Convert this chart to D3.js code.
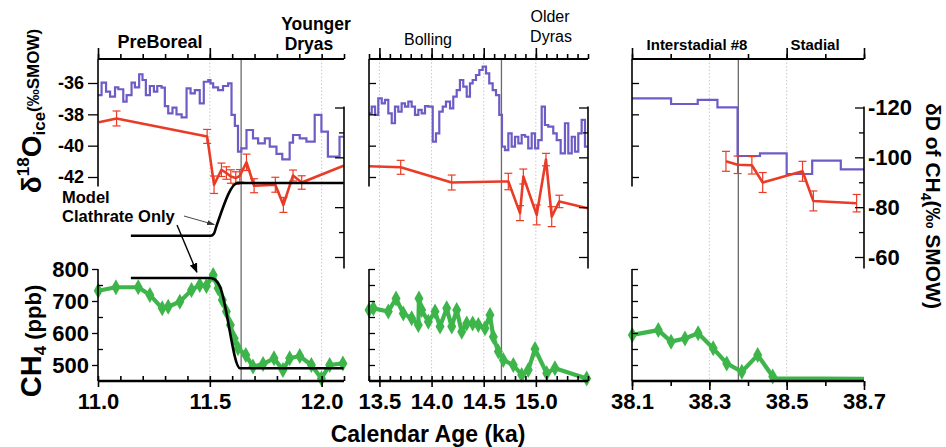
<!DOCTYPE html>
<html><head><meta charset="utf-8">
<script src="https://cdn.jsdelivr.net/npm/d3@7"></script>
<style>body{margin:0;background:#fff}svg{display:block}text{font-family:"Liberation Sans",Arial,Helvetica,sans-serif}</style>
</head><body><svg id="c" width="946" height="447"></svg>
<script>
// ---------------- DATA ----------------
// δ18O of ice (step series, [age ka, permil])
const isoA = [[11.000,-36.77],[11.016,-35.98],[11.036,-36.55],[11.054,-36.87],[11.076,-36.28],[11.091,-36.40],[11.113,-37.19],[11.128,-36.77],[11.150,-35.98],[11.165,-36.28],[11.184,-35.44],[11.199,-35.81],[11.214,-36.77],[11.232,-36.19],[11.250,-36.55],[11.265,-36.19],[11.284,-36.30],[11.299,-37.47],[11.314,-37.94],[11.333,-37.57],[11.351,-38.00],[11.374,-38.19],[11.396,-36.34],[11.414,-36.66],[11.433,-36.45],[11.455,-37.30],[11.473,-35.92],[11.493,-35.81],[11.503,-36.02],[11.515,-36.28],[11.537,-36.45],[11.559,-36.19],[11.582,-36.02],[11.597,-38.04],[11.612,-38.74],[11.626,-40.38],[11.641,-40.17],[11.664,-39.00],[11.693,-39.53],[11.716,-39.85],[11.746,-39.53],[11.768,-40.06],[11.798,-40.53],[11.824,-40.87],[11.857,-39.81],[11.872,-39.32],[11.902,-39.53],[11.932,-39.74],[11.969,-38.04],[11.999,-39.11],[12.028,-40.70],[12.080,-39.43],[12.098,-39.43]];
const isoB = [[13.400,-37.94],[13.426,-37.51],[13.458,-38.04],[13.489,-36.98],[13.522,-37.30],[13.553,-37.08],[13.585,-37.94],[13.618,-38.57],[13.649,-37.51],[13.681,-37.83],[13.713,-37.30],[13.745,-37.51],[13.777,-37.19],[13.809,-37.51],[13.841,-38.04],[13.873,-37.72],[13.905,-37.94],[13.937,-37.47],[13.969,-37.51],[14.011,-39.74],[14.042,-39.21],[14.074,-37.83],[14.107,-37.51],[14.138,-37.19],[14.177,-37.62],[14.208,-36.87],[14.241,-36.45],[14.272,-35.81],[14.304,-36.23],[14.337,-36.87],[14.368,-36.02],[14.394,-35.81],[14.426,-35.49],[14.458,-35.17],[14.490,-34.96],[14.522,-35.38],[14.553,-36.02],[14.586,-36.45],[14.618,-36.77],[14.649,-38.04],[14.675,-40.06],[14.704,-40.28],[14.736,-39.21],[14.768,-40.06],[14.800,-39.43],[14.832,-39.85],[14.864,-39.32],[14.896,-39.43],[14.927,-40.17],[14.960,-39.21],[14.992,-40.17],[15.023,-39.64],[15.056,-37.51],[15.087,-38.68],[15.119,-38.79],[15.167,-39.21],[15.200,-39.64],[15.238,-40.49],[15.279,-38.57],[15.311,-40.49],[15.344,-39.43],[15.375,-40.38],[15.407,-39.21],[15.439,-38.36],[15.471,-40.06],[15.497,-40.06]];
const isoC = [[38.100,-36.98],[38.201,-37.34],[38.270,-37.08],[38.321,-37.55],[38.373,-40.66],[38.431,-40.49],[38.500,-41.81],[38.566,-40.96],[38.640,-41.51],[38.700,-41.51]];

// δD of CH4 ([age, permil, error])
const ddA = [[11.004,-114.1,0],[11.083,-115.6,3],[11.488,-108.4,2.8],[11.519,-89.0,3.5],[11.552,-95.0,2.7],[11.574,-93.7,2.5],[11.594,-92.3,2.7],[11.616,-91.7,2.5],[11.634,-92.6,2.5],[11.664,-98.0,3.3],[11.698,-88.6,2.8],[11.793,-89.0,3],[11.829,-80.9,3],[11.872,-92.7,2.2],[11.911,-89.9,2.7],[12.098,-96.6,0]];
const ddB = [[13.400,-96.4,0],[13.704,-96.0,2.8],[14.193,-89.9,3],[14.672,-90.3,0],[14.736,-90.3,3.3],[14.848,-77.6,3],[14.880,-92.3,3],[15.008,-76.9,4],[15.097,-99.1,2.5],[15.152,-76.2,4],[15.225,-82.3,2.5],[15.497,-79.6,0]];
const ddC = [[38.343,-98.4,4],[38.373,-97.0,3.5],[38.410,-96.8,3.5],[38.438,-89.9,4],[38.541,-94.4,4],[38.569,-82.5,4],[38.681,-81.6,3.5]];

// CH4 (ppb)
const ch4A = [[11.001,732],[11.080,743],[11.180,743],[11.232,719],[11.287,677],[11.314,682],[11.366,698],[11.418,734],[11.455,750],[11.485,747],[11.515,781],[11.537,740],[11.556,703],[11.574,667],[11.592,625],[11.609,583],[11.626,552],[11.661,531],[11.693,495],[11.738,503],[11.787,521],[11.827,484],[11.857,521],[11.902,528],[11.954,500],[11.999,458],[12.036,500],[12.095,505]];
const ch4B = [[13.400,672],[13.442,677],[13.585,667],[13.659,708],[13.729,661],[13.809,646],[13.873,625],[13.879,708],[13.905,672],[13.969,635],[14.033,667],[14.081,620],[14.145,677],[14.193,620],[14.241,672],[14.289,604],[14.337,630],[14.394,630],[14.448,625],[14.512,615],[14.560,656],[14.592,588],[14.640,542],[14.688,516],[14.784,500],[14.864,469],[14.927,484],[14.992,550],[15.104,474],[15.183,490],[15.487,458]];
const ch4C = [[38.101,594],[38.168,609],[38.201,573],[38.237,583],[38.271,599],[38.310,552],[38.345,505],[38.384,479],[38.425,531],[38.464,464],[38.474,458],[38.700,457]];

// Clathrate-only model curves
const modelDD = [[11.147,-68.5],[11.505,-68.5],[11.518,-69.3],[11.530,-72.5],[11.625,-89.7],[12.098,-89.7]];
const modelCH4 = [[11.147,772],[11.500,772],[11.520,768],[11.545,745],[11.635,490],[12.098,490]];

// tick labels / reference lines
const xTicksA = [11.0, 11.5, 12.0];
const xTicksB = [13.5, 14.0, 14.5, 15.0];
const xTicksC = [38.1, 38.3, 38.5, 38.7];
const isoTicks = [-36, -38, -40, -42];
const ddTicks = [-120, -100, -80, -60];
const ddMinor = [-110, -90, -70];
const ch4Ticks = [500, 600, 700, 800];
const ch4Minor = [550, 650, 750];
const transitions = [11.64, 14.67, 38.375];

// ---------------- LAYOUT ----------------
const TOP = 59, BOT = 381;
const svg = d3.select('#c');
const xA = d3.scaleLinear().domain([11.0, 12.1]).range([98, 344]);
const xB = d3.scaleLinear().domain([13.4, 15.5]).range([369, 588]);
const xC = d3.scaleLinear().domain([38.1, 38.7]).range([632, 864]);
const yIso = d3.scaleLinear().domain([-36, -42]).range([83, 177]);
const yDD = d3.scaleLinear().domain([-120, -60]).range([107.5, 257]);
const yCH4 = d3.scaleLinear().domain([800, 500]).range([269, 365]);

const C_PUR = '#6e5cc6', C_RED = '#ea3b26', C_GRN = '#3db54a';

const panels = [
  {x: xA, iso: isoA, dd: ddA, ch4: ch4A, ticks: xTicksA, minorStep: [11.0, 12.1], topMajor: [11.0, 11.5], dotted: [11.5, 12.0], trans: transitions[0], diamondsSkip: 0},
  {x: xB, iso: isoB, dd: ddB, ch4: ch4B, ticks: xTicksB, minorStep: [13.4, 15.5], topMajor: [13.5, 14.0, 14.5, 15.0], dotted: [13.5, 14.0, 14.5, 15.0], trans: transitions[1], diamondsSkip: 0},
  {x: xC, iso: isoC, dd: ddC, ch4: ch4C, ticks: xTicksC, minorStep: [38.1, 38.7], topMajor: [38.1, 38.5, 38.7], dotted: [38.3, 38.5], trans: transitions[2], diamondsSkip: 2}
];

panels.forEach((p, i) => {
  const g = svg.append('g');
  const [x0, x1] = p.x.range();
  // reference lines
  g.selectAll('line.dot').data(p.dotted).join('line')
    .attr('x1', d => p.x(d)).attr('x2', d => p.x(d)).attr('y1', TOP).attr('y2', BOT)
    .attr('stroke', '#c8c8c8').attr('stroke-width', 1).attr('stroke-dasharray', '1.5,2');
  g.append('line').attr('x1', p.x(p.trans)).attr('x2', p.x(p.trans)).attr('y1', TOP).attr('y2', BOT)
    .attr('stroke', '#6a6a6a').attr('stroke-width', 1.3);

  // δ18O step line
  g.append('path').datum(p.iso)
    .attr('d', d3.line().x(d => p.x(d[0])).y(d => yIso(d[1])).curve(d3.curveStepAfter))
    .attr('fill', 'none').attr('stroke', C_PUR).attr('stroke-width', 2.2);

  // δD line + error bars
  g.append('path').datum(p.dd)
    .attr('d', d3.line().x(d => p.x(d[0])).y(d => yDD(d[1])))
    .attr('fill', 'none').attr('stroke', C_RED).attr('stroke-width', 2.6).attr('stroke-linejoin', 'round');
  const eb = g.selectAll('g.eb').data(p.dd.filter(d => d[2] > 0)).join('g')
    .attr('stroke', C_RED).attr('stroke-width', 1.2);
  eb.append('line').attr('x1', d => p.x(d[0])).attr('x2', d => p.x(d[0]))
    .attr('y1', d => yDD(d[1] - d[2])).attr('y2', d => yDD(d[1] + d[2]));
  eb.append('line').attr('x1', d => p.x(d[0]) - 4).attr('x2', d => p.x(d[0]) + 4)
    .attr('y1', d => yDD(d[1] - d[2])).attr('y2', d => yDD(d[1] - d[2]));
  eb.append('line').attr('x1', d => p.x(d[0]) - 4).attr('x2', d => p.x(d[0]) + 4)
    .attr('y1', d => yDD(d[1] + d[2])).attr('y2', d => yDD(d[1] + d[2]));

  // CH4 line + diamonds
  g.append('path').datum(p.ch4)
    .attr('d', d3.line().x(d => p.x(d[0])).y(d => yCH4(d[1])))
    .attr('fill', 'none').attr('stroke', C_GRN).attr('stroke-width', 4.2).attr('stroke-linejoin', 'round');
  g.selectAll('path.dm').data(p.ch4.slice(0, p.ch4.length - p.diamondsSkip)).join('path')
    .attr('d', d => { const cx = p.x(d[0]), cy = yCH4(d[1]); return `M${cx},${cy-8}L${cx+4.5},${cy}L${cx},${cy+8}L${cx-4.5},${cy}Z`; })
    .attr('fill', C_GRN);

  // ----- axes -----
  const ax = svg.append('g').attr('stroke', '#000');
  const minor = d3.range(Math.round(p.minorStep[0]*10), Math.round(p.minorStep[1]*10) + 1).map(v => v / 10);
  const top = svg.append('g').attr('transform', `translate(0,${TOP})`);
  top.call(d3.axisTop(p.x).tickValues(minor).tickSize(5).tickFormat(''));
  const topMaj = svg.append('g').attr('transform', `translate(0,${TOP})`);
  topMaj.call(d3.axisTop(p.x).tickValues(p.topMajor).tickSize(11).tickFormat(''));
  [top, topMaj].forEach(s => { s.select('.domain').remove(); s.selectAll('line').attr('stroke-width', 1.6); });
  ax.append('line').attr('x1', x0).attr('x2', x1).attr('y1', TOP).attr('y2', TOP).attr('stroke-width', 2.2);

  // bottom axis
  const botMin = svg.append('g').attr('transform', `translate(0,${BOT})`);
  const botMaj = svg.append('g').attr('transform', `translate(0,${BOT})`);
  if (i < 2) {
    botMin.call(d3.axisTop(p.x).tickValues(minor).tickSize(5).tickFormat(''));
    botMaj.call(d3.axisBottom(p.x).tickValues(p.ticks).tickSize(6).tickPadding(6).tickFormat(d3.format('.1f')));
  } else {
    botMin.call(d3.axisBottom(p.x).tickValues(minor).tickSize(5).tickFormat(''));
    botMaj.call(d3.axisBottom(p.x).tickValues(p.ticks).tickSize(9).tickPadding(3).tickFormat(d3.format('.1f')));
  }
  [botMin, botMaj].forEach(s => { s.select('.domain').remove(); s.selectAll('line').attr('stroke-width', 1.6); });
  botMaj.selectAll('text').attr('font-size', 22).attr('font-weight', 'bold').attr('fill', '#000')
    .style('font-family', '"Liberation Sans",Arial,sans-serif');
  ax.append('line').attr('x1', x0).attr('x2', x1).attr('y1', BOT).attr('y2', BOT).attr('stroke-width', 2.6);

  // left δ18O axis
  const isoAx = svg.append('g').attr('transform', `translate(${x0},0)`);
  if (i === 0) {
    isoAx.call(d3.axisLeft(yIso).tickValues(isoTicks).tickSize(10).tickPadding(4).tickFormat(d => d));
    isoAx.selectAll('text').attr('font-size', 18).attr('font-weight', 'bold').attr('fill', '#000')
      .style('font-family', '"Liberation Sans",Arial,sans-serif').text(d => '-' + Math.abs(d));
  } else {
    isoAx.call(d3.axisRight(yIso).tickValues(isoTicks).tickSize(7).tickFormat(''));
  }
  isoAx.select('.domain').remove(); isoAx.selectAll('line').attr('stroke-width', 1.3);
  ax.append('line').attr('x1', x0).attr('x2', x0).attr('y1', TOP).attr('y2', yIso(-42.6)).attr('stroke-width', 1.6);

  // right δD axis
  const ddAx = svg.append('g').attr('transform', `translate(${x1},0)`);
  ddAx.call(d3.axisLeft(yDD).tickValues(ddTicks).tickSize(9).tickFormat(''));
  const ddAx2 = svg.append('g').attr('transform', `translate(${x1},0)`);
  ddAx2.call(d3.axisLeft(yDD).tickValues(ddMinor).tickSize(5).tickFormat(''));
  [ddAx, ddAx2].forEach(s => { s.select('.domain').remove(); s.selectAll('line').attr('stroke-width', 1.3); });
  ax.append('line').attr('x1', x1).attr('x2', x1).attr('y1', yDD(-120.4)).attr('y2', yDD(-55.4)).attr('stroke-width', 1.6);
  if (i === 2) {
    svg.append('g').selectAll('text').data(ddTicks).join('text')
      .attr('x', x1 + 4).attr('y', d => yDD(d)).attr('dy', '0.36em')
      .attr('font-size', 22).attr('font-weight', 'bold').text(d => '-' + Math.abs(d));
  }

  // CH4 axis
  const chAx = svg.append('g').attr('transform', `translate(${x0},0)`);
  if (i === 0) {
    chAx.call(d3.axisLeft(yCH4).tickValues(ch4Ticks).tickSize(6).tickPadding(3).tickFormat(d => d));
    chAx.selectAll('text').attr('font-size', 22).attr('font-weight', 'bold').attr('fill', '#000')
      .style('font-family', '"Liberation Sans",Arial,sans-serif');
    const chMin = svg.append('g').attr('transform', `translate(${x0},0)`);
    chMin.call(d3.axisRight(yCH4).tickValues(ch4Minor).tickSize(5).tickFormat(''));
    chMin.select('.domain').remove(); chMin.selectAll('line').attr('stroke-width', 1.3);
  } else {
    chAx.call(d3.axisRight(yCH4).tickValues(ch4Ticks.concat(ch4Minor)).tickSize(6).tickFormat(''));
  }
  chAx.select('.domain').remove(); chAx.selectAll('line').attr('stroke-width', 1.3);
  ax.append('line').attr('x1', x0).attr('x2', x0).attr('y1', yCH4(800)).attr('y2', BOT).attr('stroke-width', 1.6);
});

// model curves (left panel)
svg.append('path').datum(modelDD)
  .attr('d', d3.line().x(d => xA(d[0])).y(d => yDD(d[1])).curve(d3.curveMonotoneX))
  .attr('fill', 'none').attr('stroke', '#000').attr('stroke-width', 2.6);
svg.append('path').datum(modelCH4)
  .attr('d', d3.line().x(d => xA(d[0])).y(d => yCH4(d[1])).curve(d3.curveMonotoneX))
  .attr('fill', 'none').attr('stroke', '#000').attr('stroke-width', 2.6);

// annotation
const defs = svg.append('defs');
defs.append('marker').attr('id', 'ah').attr('viewBox', '0 0 10 10').attr('refX', 9).attr('refY', 5)
  .attr('markerWidth', 7).attr('markerHeight', 7).attr('orient', 'auto-start-reverse')
  .append('path').attr('d', 'M0,1L10,5L0,9Z').attr('fill', '#000');
defs.append('marker').attr('id', 'ah2').attr('viewBox', '0 0 10 10').attr('refX', 9).attr('refY', 5)
  .attr('markerWidth', 9).attr('markerHeight', 9).attr('orient', 'auto-start-reverse')
  .append('path').attr('d', 'M0,2L10,5L0,8Z').attr('fill', '#333');
svg.append('text').attr('x', 62).attr('y', 203).attr('font-size', 16.5).attr('font-weight', 'bold').text('Model');
svg.append('text').attr('x', 62).attr('y', 222).attr('font-size', 16.5).attr('font-weight', 'bold').text('Clathrate Only');
svg.append('line').attr('x1', 184).attr('y1', 216).attr('x2', xA(11.52)).attr('y2', yDD(-73))
  .attr('stroke', '#333').attr('stroke-width', 0.9).attr('marker-end', 'url(#ah2)');
svg.append('line').attr('x1', 177).attr('y1', 225).attr('x2', xA(11.442)).attr('y2', yCH4(790))
  .attr('stroke', '#000').attr('stroke-width', 1.4).attr('marker-end', 'url(#ah)');

// period labels
const lbl = (x, y, t, fs, fw) => svg.append('text').attr('x', x).attr('y', y).attr('text-anchor', 'middle')
  .attr('font-size', fs).attr('font-weight', fw).text(t);
lbl(160, 48, 'PreBoreal', 18, 'bold');
lbl(316, 30, 'Younger', 17.5, 'bold');
lbl(309, 50, 'Dryas', 17.5, 'bold');
lbl(428, 45, 'Bolling', 16, 'normal');
lbl(550, 22, 'Older', 16, 'normal');
lbl(551, 42, 'Dyras', 16, 'normal');
lbl(697, 50, 'Interstadial #8', 15, 'bold');
lbl(815, 50, 'Stadial', 15, 'bold');

// axis titles
svg.append('text').attr('x', 428).attr('y', 442).attr('text-anchor', 'middle')
  .attr('font-size', 23).attr('font-weight', 'bold').text('Calendar Age (ka)');

const t1 = svg.append('text').attr('transform', 'translate(41,111) rotate(-90)').attr('text-anchor', 'middle').attr('font-weight', 'bold');
t1.append('tspan').attr('font-size', 28).text('δ');
t1.append('tspan').attr('font-size', 17).attr('dy', -12).text('18');
t1.append('tspan').attr('font-size', 28).attr('dy', 12).text('O');
t1.append('tspan').attr('font-size', 17).attr('dy', 4).text('ice');
t1.append('tspan').attr('font-size', 17).attr('dy', -6).text('(‰SMOW)');

const t2 = svg.append('text').attr('transform', 'translate(41,341) rotate(-90)').attr('text-anchor', 'middle').attr('font-weight', 'bold');
t2.append('tspan').attr('font-size', 29).text('CH');
t2.append('tspan').attr('font-size', 17).attr('dy', 5).text('4');
t2.append('tspan').attr('font-size', 22).attr('dy', -5).text(' (ppb)');

const t3 = svg.append('text').attr('transform', 'translate(926,206) rotate(90)').attr('text-anchor', 'middle').attr('font-weight', 'bold');
t3.append('tspan').attr('font-size', 21).text('δD of CH');
t3.append('tspan').attr('font-size', 14).attr('dy', 5).text('4');
t3.append('tspan').attr('font-size', 21).attr('dy', -5).text('(‰ SMOW)');
</script></body></html>
